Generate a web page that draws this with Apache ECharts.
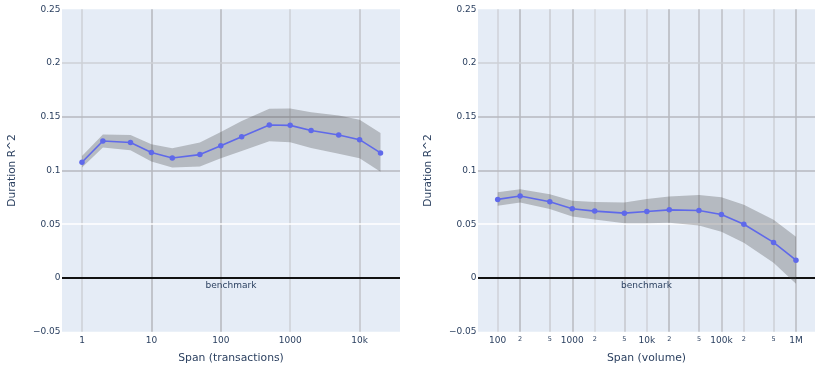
<!DOCTYPE html>
<html>
<head>
<meta charset="utf-8">
<script src="https://cdn.jsdelivr.net/npm/echarts@6/dist/echarts.min.js"></script>
<style>html,body{margin:0;padding:0;background:#fff}#c{width:815px;height:369px}</style>
</head>
<body>
<div id="c"></div>
<script>
// ---- data ----
const leftX = [1, 2, 5, 10, 20, 50, 100, 200, 500, 1000, 2000, 5000, 10000, 20000];
const leftMean = [0.1077, 0.1275, 0.1260, 0.1167, 0.1117, 0.1148, 0.1231, 0.1315, 0.1423, 0.1420, 0.1373, 0.1330, 0.1287, 0.1164];
const leftUpper = [0.1136, 0.1336, 0.1330, 0.1244, 0.1207, 0.1260, 0.1358, 0.1460, 0.1574, 0.1577, 0.1543, 0.1512, 0.1472, 0.1349];
const leftLower = [0.1028, 0.1213, 0.1188, 0.1083, 0.1028, 0.1037, 0.1114, 0.1182, 0.1272, 0.1262, 0.1210, 0.1157, 0.1114, 0.0988];

const rightX = [100, 200, 500, 1000, 2000, 5000, 10000, 20000, 50000, 100000, 200000, 500000, 1000000];
const rightMean = [0.0731, 0.0762, 0.0709, 0.0644, 0.0622, 0.0603, 0.0619, 0.0634, 0.0628, 0.0591, 0.0500, 0.0331, 0.0166];
const rightUpper = [0.0797, 0.0825, 0.0778, 0.0719, 0.0706, 0.0703, 0.0734, 0.0759, 0.0772, 0.0750, 0.0681, 0.0541, 0.0384];
const rightLower = [0.0672, 0.0703, 0.0641, 0.0572, 0.0544, 0.0509, 0.0509, 0.0513, 0.0488, 0.0431, 0.0328, 0.0141, -0.0053];

const leftTicks = [1, 10, 100, 1000, 10000];
const rightTicks = [100, 200, 500, 1000, 2000, 5000, 10000, 20000, 50000, 100000, 200000, 500000, 1000000];
const yTicks = [0.05, 0.1, 0.15, 0.2];

const leftTitle = 'Span (transactions)';
const rightTitle = 'Span (volume)';
const yTitle = 'Duration R^2';
const benchmarkText = 'benchmark';

// ---- styles ----
const leftGridColors = ['#cdd0d6', '#b4b7bd', '#b4b7bd', '#cdd0d6', '#c0c3c9'];
const rightGridColors = ['#cfd2d8', '#b4b7bd', '#c8cbd1', '#b8bbc1', '#d5d8de', '#c4c7cd', '#cfd2d8', '#b4b7bd', '#bec1c7', '#bcbfc5', '#d0d3d9', '#cdd0d6', '#b8bbc1'];
const yGridColors = ['#ffffff', '#b6b9bf', '#b6b9bf', '#cdd0d6'];

const FONT = 'DejaVu Sans';
const TXT = '#2a3f5f';
const LINE = '#5f69ea';
const BAND = 'rgba(68,68,68,0.3)';

const lg = Math.log10;

function fmtTick(v) {
  const n = Math.round(Math.pow(10, v));
  const e = Math.floor(v + 1e-9);
  const m = Math.round(n / Math.pow(10, e));
  if (m !== 1) return '{m|' + m + '}';
  if (n >= 1e6) return (n / 1e6) + 'M';
  if (n >= 1e4) return (n / 1e3) + 'k';
  return String(n);
}

function xAxisFor(gi, ticks, min, max, title) {
  return {
    type: 'value', gridIndex: gi, min: min, max: max,
    axisLine: {show: false}, axisTick: {show: false}, splitLine: {show: false},
    axisLabel: {
      customValues: ticks.map(lg), formatter: fmtTick, margin: 4,
      fontFamily: FONT, fontSize: 9, color: TXT,
      rich: {m: {fontFamily: FONT, fontSize: 6.5, color: TXT, verticalAlign: 'top', padding: [0, 0, 3, 0]}}
    },
    name: title, nameLocation: 'middle', nameGap: 21,
    nameTextStyle: {fontFamily: FONT, fontSize: 10.8, color: TXT}
  };
}
function yAxisFor(gi) {
  return {
    type: 'value', gridIndex: gi, min: -0.05, max: 0.25, interval: 0.05,
    axisLine: {show: false}, axisTick: {show: false}, splitLine: {show: false},
    axisLabel: {
      margin: 1.5, fontFamily: FONT, fontSize: 9, color: TXT,
      formatter: v => { const r = parseFloat(v.toFixed(2)); return r < 0 ? '\u2212' + Math.abs(r) : String(r); }
    },
    name: yTitle, nameLocation: 'middle', nameGap: 44, nameRotate: 90,
    nameTextStyle: {fontFamily: FONT, fontSize: 10.6, color: TXT}
  };
}

function gridSeries(gi, ticks, colors) {
  const data = ticks.map((t, i) => ({xAxis: lg(t), lineStyle: {color: colors[i], width: 1.5, type: 'solid'}}))
    .concat(yTicks.map((t, i) => ({yAxis: t, lineStyle: {color: yGridColors[i], width: 1.5, type: 'solid'}})))
    .concat([{yAxis: 0, lineStyle: {color: '#111', width: 2, type: 'solid'},
      label: {show: true, formatter: benchmarkText, position: 'insideMiddleBottom', distance: 3,
        fontFamily: FONT, fontSize: 9, color: TXT}}]);
  return {
    type: 'line', xAxisIndex: gi, yAxisIndex: gi, data: [], z: 1, silent: true,
    markLine: {z: 1, silent: true, symbol: ['none', 'none'], label: {show: false}, animation: false, data: data}
  };
}
function bandSeries(gi, xs, up, lo) {
  return {
    type: 'custom', xAxisIndex: gi, yAxisIndex: gi, z: 2, silent: true,
    data: [[lg(xs[0]), up[0]]],
    renderItem: (params, api) => {
      const pts = [];
      for (let i = 0; i < xs.length; i++) pts.push(api.coord([lg(xs[i]), up[i]]));
      for (let i = xs.length - 1; i >= 0; i--) pts.push(api.coord([lg(xs[i]), lo[i]]));
      return {type: 'polygon', shape: {points: pts}, style: {fill: BAND}};
    }
  };
}
function lineSeries(gi, xs, ys) {
  return {
    type: 'line', xAxisIndex: gi, yAxisIndex: gi, z: 3,
    data: xs.map((x, i) => [lg(x), ys[i]]),
    symbol: 'circle', symbolSize: 5.5, showSymbol: true,
    lineStyle: {color: LINE, width: 1.6}, itemStyle: {color: LINE}
  };
}

const chart = echarts.init(document.getElementById('c'), null, {renderer: 'canvas'});
chart.setOption({
  animation: false,
  backgroundColor: '#ffffff',
  grid: [
    {left: 62, width: 338, top: 9.3, bottom: 37.3, show: true, backgroundColor: '#e5ecf6', borderWidth: 0},
    {left: 478, width: 337, top: 9.3, bottom: 37.3, show: true, backgroundColor: '#e5ecf6', borderWidth: 0}
  ],
  xAxis: [
    xAxisFor(0, leftTicks, -0.288, 4.582, leftTitle),
    xAxisFor(1, rightTicks, 1.736, 6.255, rightTitle)
  ],
  yAxis: [yAxisFor(0), yAxisFor(1)],
  series: [
    gridSeries(0, leftTicks, leftGridColors),
    gridSeries(1, rightTicks, rightGridColors),
    bandSeries(0, leftX, leftUpper, leftLower),
    bandSeries(1, rightX, rightUpper, rightLower),
    lineSeries(0, leftX, leftMean),
    lineSeries(1, rightX, rightMean)
  ]
});
</script>
</body>
</html>
